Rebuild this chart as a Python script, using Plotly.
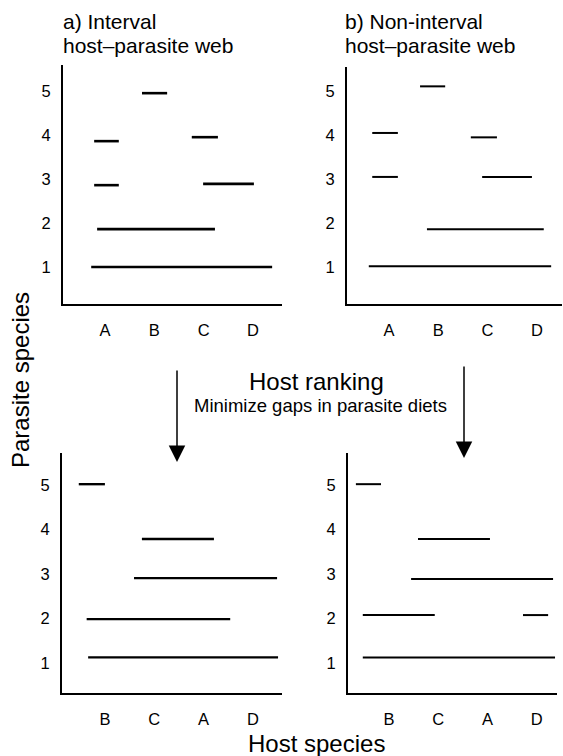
import plotly.graph_objects as go

W, H = 563, 756

# ---- data -------------------------------------------------------------
hosts_top = ["A", "B", "C", "D"]
hosts_bottom = ["B", "C", "A", "D"]
parasites = [1, 2, 3, 4, 5]

# segments: start/end in host-position units, y in parasite units
a_start = [1.75, 0.78, 2.76, 0.78, 2.99, 0.84, 0.72]
a_end   = [2.26, 1.28, 3.29, 1.28, 4.02, 3.23, 4.39]
a_y     = [4.95, 3.86, 3.95, 2.86, 2.89, 1.86, 1.00]

b_start = [1.63, 0.66, 2.66, 0.66, 2.89, 1.77, 0.59]
b_end   = [2.14, 1.18, 3.19, 1.18, 3.90, 4.14, 4.29]
b_y     = [5.11, 4.05, 3.95, 3.05, 3.05, 1.86, 1.02]

c_start = [0.47, 1.75, 1.59, 0.63, 0.66]
c_end   = [1.00, 3.21, 4.49, 3.54, 4.51]
c_y     = [5.02, 3.79, 2.91, 1.99, 1.13]

d_start = [0.33, 1.59, 1.45, 0.47, 3.72, 0.47]
d_end   = [0.84, 3.05, 4.33, 1.93, 4.23, 4.37]
d_y     = [5.02, 3.79, 2.89, 2.08, 2.08, 1.13]

FONT = "Liberation Sans, Arial, Helvetica, sans-serif"

def seg_xy(s, e, y):
    xs, ys = [], []
    for a, b, v in zip(s, e, y):
        xs += [a, b, None]
        ys += [v, v, None]
    return xs, ys

# panel boxes in pixels: (left, right, top, bottom), x-range, y-range, line width
panels = [
    dict(box=(63, 282, 65, 304), xr=[0.148, 4.59], yr=[0.16, 5.59], lw=2.6,
         data=(a_start, a_end, a_y), hosts=hosts_top),
    dict(box=(347, 562, 67, 304), xr=[0.148, 4.51], yr=[0.16, 5.55], lw=2.0,
         data=(b_start, b_end, b_y), hosts=hosts_top),
    dict(box=(62, 282, 453, 693), xr=[0.13, 4.59], yr=[0.33, 5.72], lw=2.4,
         data=(c_start, c_end, c_y), hosts=hosts_bottom),
    dict(box=(348, 557, 453, 693), xr=[0.17, 4.41], yr=[0.33, 5.72], lw=2.0,
         data=(d_start, d_end, d_y), hosts=hosts_bottom),
]

TICK = 16.5

fig = go.Figure()
layout = dict(
    width=W, height=H, margin=dict(l=0, r=0, t=0, b=0),
    paper_bgcolor="white", plot_bgcolor="white", showlegend=False,
    font=dict(family=FONT, color="black", size=TICK),
)

for i, p in enumerate(panels, start=1):
    sfx = "" if i == 1 else str(i)
    l, r, t, b = p["box"]
    xs, ys = seg_xy(*p["data"])
    fig.add_trace(go.Scatter(x=xs, y=ys, mode="lines",
                             line=dict(color="black", width=p["lw"]),
                             xaxis="x" + sfx, yaxis="y" + sfx,
                             hoverinfo="skip"))
    layout["xaxis" + sfx] = dict(
        domain=[l / W, r / W], range=p["xr"], anchor="y" + sfx,
        showline=True, linewidth=2, linecolor="black", mirror=False,
        showgrid=False, zeroline=False, ticks="",
        tickvals=[1, 2, 3, 4], ticktext=p["hosts"],
        tickfont=dict(size=TICK, family=FONT, color="black"),
        ticklabelstandoff=10, fixedrange=True,
    )
    layout["yaxis" + sfx] = dict(
        domain=[1 - b / H, 1 - t / H], range=p["yr"], anchor="x" + sfx,
        showline=True, linewidth=2, linecolor="black", mirror=False,
        showgrid=False, zeroline=False, ticks="",
        tickvals=parasites, ticktext=[str(v) for v in parasites],
        tickfont=dict(size=TICK, family=FONT, color="black"),
        ticklabelstandoff=7, fixedrange=True,
    )

fig.update_layout(**layout)

def px(x):
    return x / W

def py(y):
    return 1 - y / H

def label(text, x, y, size, xanchor="center", angle=0):
    return dict(text=text, x=px(x), y=py(y), xref="paper", yref="paper",
                xanchor=xanchor, yanchor="middle", showarrow=False,
                textangle=angle, font=dict(size=size))

ann = [
    label("a) Interval", 61, 22, 21, "left"),
    label("host–parasite web", 61, 46, 21, "left"),
    label("b) Non-interval", 343, 22, 21, "left"),
    label("host–parasite web", 343, 46, 21, "left"),
    label("Host ranking", 316, 381, 24),
    label("Minimize gaps in parasite diets", 320, 405, 18.5),
    label("Host species", 316, 743, 24),
    label("Parasite species", 20, 380, 24, angle=-90),
]
# arrows
for (ax_, tail, tip) in [(177, 369, 462), (464, 365, 458)]:
    ann.append(dict(text="", x=px(ax_), y=py(tip), xref="paper", yref="paper",
                    showarrow=True, ax=0, ay=-(tip - tail), axref="pixel",
                    ayref="pixel", arrowhead=2, arrowsize=2.2, arrowwidth=1.5,
                    arrowcolor="black"))
fig.update_layout(annotations=ann)

fig.write_html("out.html")
